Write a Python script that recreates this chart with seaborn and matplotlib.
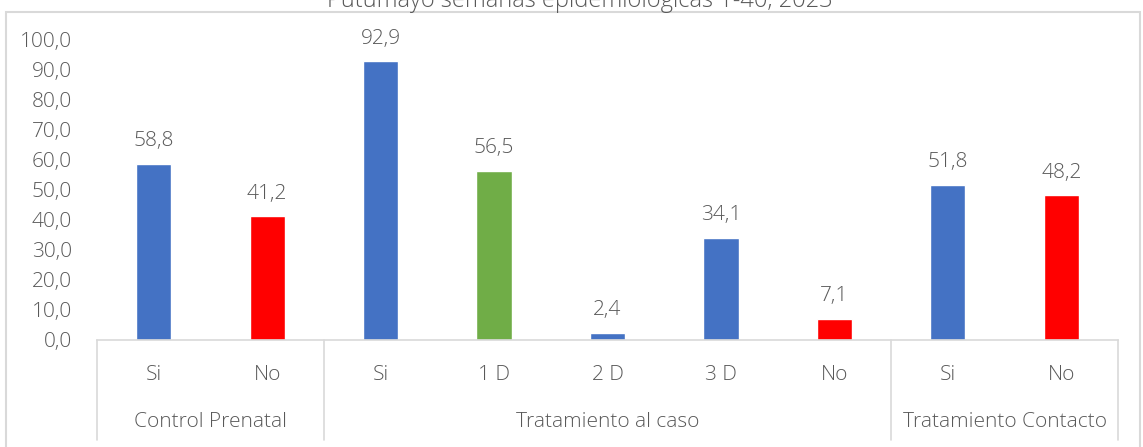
import pandas as pd
import seaborn as sns
import matplotlib.pyplot as plt
import matplotlib.transforms as mtransforms
from matplotlib.patches import Rectangle

# Data
categories = ['Si', 'No', 'Si', '1 D', '2 D', '3 D', 'No', 'Si', 'No']
values = [58.8, 41.2, 92.9, 56.5, 2.4, 34.1, 7.1, 51.8, 48.2]
groups = ['Control Prenatal', 'Tratamiento al caso', 'Tratamiento Contacto']
group_sizes = [2, 5, 2]
bar_colors = ['#4472C4', '#FF0000', '#4472C4', '#70AD47', '#4472C4',
              '#4472C4', '#FF0000', '#4472C4', '#FF0000']
title = 'Putumayo semanas epidemiológicas 1-40, 2023'
y_ticks = [0, 10, 20, 30, 40, 50, 60, 70, 80, 90, 100]

sns.set_theme(style='white')
plt.rcParams['font.family'] = ['Open Sans', 'DejaVu Sans']
plt.rcParams['font.weight'] = 'light'
text_color = '#595959'
line_color = '#D9D9D9'
fs = 15

df = pd.DataFrame({'key': [str(i) for i in range(len(values))],
                   'label': categories, 'value': values})

fig = plt.figure(figsize=(11.43, 4.47), dpi=100)
ax = fig.add_axes([97 / 1143, 107 / 447, 1021 / 1143, 300 / 447])

sns.barplot(data=df, x='key', y='value', hue='key', palette=bar_colors,
            legend=False, width=0.31, ax=ax, saturation=1)

ax.set_xlim(-0.5, len(values) - 0.5)
ax.set_ylim(0, 100)
ax.set_yticks(y_ticks)
ax.set_yticklabels([f'{t:.1f}'.replace('.', ',') for t in y_ticks],
                   color=text_color, fontsize=fs)
ax.tick_params(axis='y', length=0, pad=18)
ax.set_xticks([])
ax.set_xlabel('')
ax.set_ylabel('')
for s in ['top', 'right', 'left']:
    ax.spines[s].set_visible(False)
ax.spines['bottom'].set_color(line_color)
ax.spines['bottom'].set_linewidth(1.2)

# value labels
for i, v in enumerate(values):
    ax.annotate(f'{v:.1f}'.replace('.', ','), (i, v), xytext=(0, 9),
                textcoords='offset points', ha='center', va='bottom',
                color=text_color, fontsize=fs, clip_on=False)

# multi-level category axis
trans = mtransforms.blended_transform_factory(ax.transData, ax.transAxes)
for i, c in enumerate(categories):
    ax.text(i, -0.117, c, transform=trans, ha='center', va='center',
            color=text_color, fontsize=fs)

bounds = [-0.5]
for n in group_sizes:
    bounds.append(bounds[-1] + n)
for b in bounds:
    ax.plot([b, b], [0, -0.333], transform=trans, color=line_color,
            lw=1.2, clip_on=False)
for g, a, b in zip(groups, bounds[:-1], bounds[1:]):
    ax.text((a + b) / 2, -0.273, g, transform=trans, ha='center',
            va='center', color=text_color, fontsize=fs)

# chart frame and cut-off title
fig.patches.append(Rectangle((6 / 1143, -0.05), 1134 / 1143, 1.05 - 12 / 447,
                             transform=fig.transFigure, fill=False,
                             edgecolor=line_color, lw=1.5))
fig.text(580 / 1143, 1 - 1 / 447, title, ha='center', va='center',
         color=text_color, fontsize=17)

fig.savefig('out.png', dpi=100)
